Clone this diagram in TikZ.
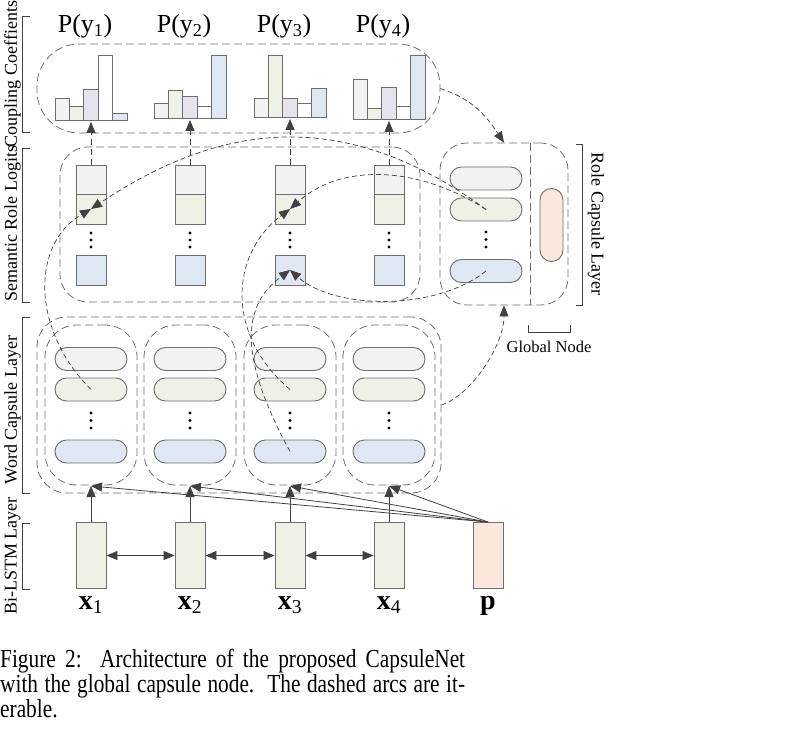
\documentclass[tikz,border=0pt]{standalone}
\usepackage{fontspec}
\setmainfont{Liberation Serif}
\usetikzlibrary{arrows.meta}

\definecolor{fillgrey}{HTML}{F2F2F2}
\definecolor{fillgreen}{HTML}{EEF1E6}
\definecolor{fillblue}{HTML}{DFE8F2}
\definecolor{fillpurple}{HTML}{E6E3EF}
\definecolor{fillpeach}{HTML}{FBE8DC}
\definecolor{linegrey}{HTML}{6E6E6E}
\definecolor{inkgrey}{HTML}{404040}

\tikzset{
    pill/.style={rectangle, draw=linegrey, line width=.9pt, rounded corners=11.5pt,
        minimum width=72pt, minimum height=23pt, inner sep=0pt},
    cell/.style={rectangle, draw=linegrey, line width=.9pt, minimum width=30pt, inner sep=0pt},
    histbar/.style={draw=linegrey, line width=.9pt},
    dashbox/.style={rectangle, draw=linegrey, line width=.8pt, dash pattern=on 8pt off 4pt,
        rounded corners=#1, inner sep=0pt},
    dashbox/.default=25pt,
    divider/.style={draw=linegrey, line width=.8pt, dash pattern=on 8pt off 4pt},
    tip/.style={-{Triangle[length=11pt,width=9pt]}},
    iter/.style={draw=inkgrey, line width=.7pt, dash pattern=on 5pt off 3pt, tip},
    upline/.style={draw=inkgrey, line width=.8pt, dash pattern=on 6pt off 4pt, tip},
    feed/.style={draw=inkgrey, line width=.8pt, tip},
    twoway/.style={draw=inkgrey, line width=.8pt, {Triangle[length=11pt,width=9pt]}-{Triangle[length=11pt,width=9pt]}},
    layerbrk/.style={draw=inkgrey, line width=.8pt},
    sidelabel/.style={font=\fontsize{18}{18}\selectfont, inner sep=0pt},
}

\begin{document}
\begin{tikzpicture}[x=1pt,y=-1pt]
    \useasboundingbox (0,0) rectangle (800,735);

    % coupling coefficients
    \node[dashbox=42pt, minimum width=403pt, minimum height=89pt] (cc) at (238.5,88.5) {};
    \foreach \i/\x/\yb/\ha/\hb/\hc/\hd/\he in {1/91/120/22/14/31/65/7, 2/190/118/15/28/22/12/63,
        3/290/117/19/62/19/14/29, 4/389/119/40/11/32/13/64}{
        \draw[histbar, fill=fillgrey]   (\x-36,\yb)   rectangle ++(14.4,-\ha);
        \draw[histbar, fill=fillgreen]  (\x-21.6,\yb) rectangle ++(14.4,-\hb);
        \draw[histbar, fill=fillpurple] (\x-7.2,\yb)  rectangle ++(14.4,-\hc);
        \draw[histbar, fill=white]      (\x+7.2,\yb)  rectangle ++(14.4,-\hd);
        \draw[histbar, fill=fillblue]   (\x+21.6,\yb) rectangle ++(14.4,-\he);
        \coordinate (b\i) at (\x,\yb+2);
        \node[anchor=base, font=\fontsize{26}{26}\selectfont] (py\i) at (\x-6,33) {P(y\textsubscript{\i})};
    }

    % semantic role logits
    \node[dashbox=28pt, minimum width=360pt, minimum height=155pt] (sl) at (240,224.5) {};
    \foreach \i/\x in {1/91,2/190,3/290,4/389}{
        \node[cell, fill=fillgrey, minimum height=29pt] (sa\i) at (\x,179.5) {};
        \node[cell, fill=fillgreen, minimum height=30pt] (sb\i) at (\x,209) {};
        \node[cell, fill=fillblue, minimum height=30pt] (sc\i) at (\x,270) {};
        \foreach \y in {233,240,247} \fill (\x,\y) circle (1.7pt);
        \draw[upline] (sa\i.north) -- (b\i);
    }

    % word capsules
    \node[dashbox=30pt, minimum width=404pt, minimum height=176pt] (wl) at (239,405) {};
    \foreach \i/\x in {1/91,2/190,3/290,4/389}{
        \node[dashbox=32pt, minimum width=92pt, minimum height=160pt] (wcol\i) at (\x,405) {};
        \node[pill, fill=fillgrey] (wa\i) at (\x,359) {};
        \node[pill, fill=fillgreen] (wb\i) at (\x,389.5) {};
        \node[pill, fill=fillblue] (wc\i) at (\x,451.5) {};
        \foreach \y in {413,420.5,428} \fill (\x,\y) circle (1.7pt);
    }

    % role capsules and the global node
    \node[dashbox=27pt, minimum width=128pt, minimum height=162pt] (rl) at (504,224) {};
    \draw[divider] (530,143) -- (530,305);
    \node[pill, fill=fillgrey] (ra) at (486,178.5) {};
    \node[pill, fill=fillgreen] (rb) at (486,209.5) {};
    \node[pill, fill=fillblue] (rc) at (486,271) {};
    \foreach \y in {232,239.5,247} \fill (486,\y) circle (1.7pt);
    \node[pill, fill=fillpeach, minimum width=23pt, minimum height=73pt] (gn) at (551.5,225) {};

    % Bi-LSTM
    \foreach \i/\x in {1/91,2/190,3/290,4/389}{
        \node[cell, fill=fillgreen, minimum height=66pt] (h\i) at (\x,555.5) {};
        \node[anchor=base, font=\fontsize{28}{28}\selectfont] (x\i) at (\x,609) {\textbf{x}\textsubscript{\i}};
        \coordinate (t\i) at (\x,486);
        \draw[feed] (h\i.north) -- (t\i);
    }
    \node[cell, fill=fillpeach, minimum height=66pt] (pn) at (488,555.5) {};
    \node[anchor=base, font=\fontsize{28}{28}\selectfont] (pl) at (488,609) {\textbf{p}};
    \foreach \i in {1,...,4} \draw[feed] (pn.north) -- (t\i);
    \draw[twoway] (h1.east) -- (h2.west);
    \draw[twoway] (h2.east) -- (h3.west);
    \draw[twoway] (h3.east) -- (h4.west);

    % dashed routing arcs
    \draw[iter] (cc.east) .. controls +(30,10) and +(-20,-30) .. (rl.north);
    \draw[iter] (wl.east) .. controls +(30,-10) and +(0,40) .. (rl.south);
    \draw[iter] (wb1.center) .. controls +(-60,-60) and +(-60,35) .. (sb1.center);
    \draw[iter] (rb.center) .. controls +(-150,-110) and +(120,-80) .. (sb1.center);
    \draw[iter] (wb3.center) .. controls +(-65,-55) and +(-60,45) .. (sb3.center);
    \draw[iter] (rb.center) .. controls +(-70,-45) and +(50,-45) .. (sb3.center);
    \draw[iter] (wc3.center) .. controls +(-60,-110) and +(-40,30) .. (sc3.center);
    \draw[iter] (rc.center) .. controls +(-50,40) and +(45,40) .. (sc3.center);

    % layer brackets
    \draw[layerbrk] (30,16) -- (22,16) -- (22,132) -- (30,132);
    \draw[layerbrk] (30,148) -- (22,148) -- (22,302) -- (30,302);
    \draw[layerbrk] (30,317) -- (22,317) -- (22,493) -- (30,493);
    \draw[layerbrk] (30,523) -- (22,523) -- (22,589) -- (30,589);
    \draw[layerbrk] (576,144) -- (582,144) -- (582,305) -- (576,305);
    \draw[layerbrk] (528,325) -- (528,332) -- (570,332) -- (570,325);
    \node[sidelabel, rotate=90] (lcc) at (12.5,74) {Coupling Coeffients};
    \node[sidelabel, rotate=90] (lsr) at (12.5,224) {Semantic Role Logits};
    \node[sidelabel, rotate=90] (lwc) at (12.5,410) {Word Capsule Layer};
    \node[sidelabel, rotate=90] (lbl) at (12.5,556) {Bi-LSTM Layer};
    \node[sidelabel, rotate=-90] (lrc) at (596,224) {Role Capsule Layer};
    \node[anchor=base, font=\fontsize{16.5}{16.5}\selectfont] (lgn) at (549,352) {Global Node};

    % caption
    \node[anchor=base west, inner sep=0pt, font=\fontsize{26}{26}\selectfont] (cap1) at (0,667)
        {\scalebox{.82}[1]{\makebox[567pt][s]{Figure 2:\ \ Architecture of the proposed CapsuleNet}}};
    \node[anchor=base west, inner sep=0pt, font=\fontsize{26}{26}\selectfont] (cap2) at (0,692)
        {\scalebox{.82}[1]{\makebox[567pt][s]{with the global capsule node.\ \ The dashed arcs are it-}}};
    \node[anchor=base west, inner sep=0pt, font=\fontsize{26}{26}\selectfont] (cap3) at (0,717)
        {\scalebox{.82}[1]{erable.}};
\end{tikzpicture}
\end{document}
